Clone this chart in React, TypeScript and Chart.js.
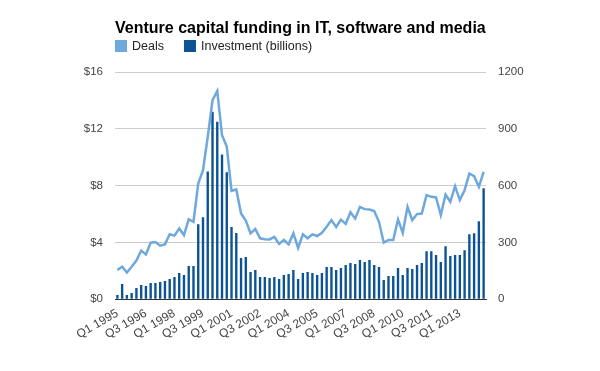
import React, { useEffect, useRef } from "react";
import { Chart, registerables } from "chart.js";

Chart.register(...registerables);

const TITLE = "Venture capital funding in IT, software and media";
const SERIES_NAMES = ["Deals", "Investment (billions)"];

const years = [1995, 1996, 1997, 1998, 1999, 2000, 2001, 2002, 2003, 2004, 2005, 2006, 2007, 2008, 2009, 2010, 2011, 2012, 2013, 2014];
const quarters = ["Q1", "Q2", "Q3", "Q4"];
const categories: string[] = [];
years.forEach((y) => quarters.forEach((q) => categories.push(`${q} ${y}`)));
categories.splice(78);

const xTickLabels = ["Q1 1995", "Q3 1996", "Q1 1998", "Q3 1999", "Q1 2001", "Q3 2002", "Q1 2004", "Q3 2005", "Q1 2007", "Q3 2008", "Q1 2010", "Q3 2011", "Q1 2013"];

const investment = [
  0.30, 1.08, 0.30, 0.44, 0.80, 1.01, 0.94, 1.15, 1.15, 1.22,
  1.29, 1.43, 1.57, 1.85, 1.71, 2.34, 2.34, 5.29, 5.78, 9.0,
  13.2, 12.5, 10.2, 8.94, 5.09, 4.67, 2.91, 2.97, 1.93, 2.07,
  1.57, 1.57, 1.50, 1.57, 1.43, 1.71, 1.78, 2.06, 1.43, 1.85,
  1.92, 1.85, 1.71, 1.85, 2.27, 2.27, 2.06, 2.20, 2.41, 2.55,
  2.48, 2.76, 2.62, 2.76, 2.41, 2.27, 1.36, 1.64, 1.64, 2.20,
  1.71, 2.20, 2.13, 2.41, 2.55, 3.39, 3.39, 3.11, 2.62, 3.74,
  3.04, 3.11, 3.11, 3.46, 4.58, 4.65, 5.50, 7.81,
];

const deals = [
  155, 172, 141, 172, 205, 257, 237, 299, 302, 283,
  290, 343, 336, 374, 339, 422, 409, 611, 682, 857,
  1051, 1100, 866, 806, 572, 580, 453, 416, 348, 371,
  322, 317, 316, 329, 292, 313, 290, 348, 271, 343,
  322, 343, 334, 351, 383, 418, 382, 421, 398, 460,
  427, 488, 476, 474, 466, 409, 299, 313, 313, 422,
  351, 488, 418, 450, 453, 550, 541, 538, 445, 553,
  515, 597, 524, 576, 664, 650, 594, 673,
];

const leftTicks = [0, 4, 8, 12, 16];
const rightTicks = [0, 300, 600, 900, 1200];

const DEALS_COLOR = "#6fa8dc";
const INV_COLOR = "#0b5394";
const FONT = "'Liberation Sans', Arial, sans-serif";

const headerPlugin = {
  id: "header",
  afterDraw(chart: any) {
    const { ctx, chartArea } = chart;
    const x0 = chartArea.left;
    ctx.save();
    ctx.fillStyle = "#000";
    ctx.font = `bold 16px ${FONT}`;
    ctx.textBaseline = "alphabetic";
    ctx.textAlign = "left";
    ctx.fillText(TITLE, x0, 33);
    ctx.font = `12.5px ${FONT}`;
    ctx.textBaseline = "middle";
    let x = x0;
    chart.data.datasets.forEach((ds: any) => {
      ctx.fillStyle = ds.legendColor;
      ctx.fillRect(x, 40, 12, 12);
      ctx.fillStyle = "#222";
      ctx.fillText(ds.label, x + 17, 46.5);
      x += 17 + ctx.measureText(ds.label).width + 20;
    });
    ctx.restore();
  },
};

export default function App() {
  const ref = useRef<HTMLCanvasElement>(null);
  useEffect(() => {
    if (!ref.current) return;
    const chart = new Chart(ref.current, {
      data: {
        labels: categories,
        datasets: [
          {
            type: "line",
            label: SERIES_NAMES[0],
            data: deals,
            yAxisID: "y2",
            borderColor: DEALS_COLOR,
            borderWidth: 2.5,
            pointRadius: 0,
            tension: 0,
            order: 0,
            legendColor: DEALS_COLOR,
          } as any,
          {
            type: "bar",
            label: SERIES_NAMES[1],
            data: investment,
            yAxisID: "y",
            backgroundColor: INV_COLOR,
            barPercentage: 1,
            categoryPercentage: 0.5,
            order: 1,
            legendColor: INV_COLOR,
          } as any,
        ],
      },
      options: {
        responsive: false,
        animation: false,
        layout: { padding: { top: 72, left: 0, right: 0, bottom: 0 } },
        plugins: {
          legend: { display: false },
          title: { display: false },
          tooltip: { enabled: false },
        },
        scales: {
          x: {
            grid: { display: false, drawTicks: false },
            border: { display: true, color: "#333", width: 1 },
            afterFit: (s: any) => { s.height = 71.7; },
            ticks: {
              autoSkip: false,
              minRotation: 30,
              maxRotation: 30,
              padding: 7,
              color: "#444",
              font: { family: FONT, size: 12 },
              callback: function (this: any, v: any) {
                const l = categories[v as number];
                return xTickLabels.includes(l) ? l : "";
              },
            },
          },
          y: {
            position: "left",
            min: 0,
            max: 16,
            afterFit: (s: any) => { s.width = 115; },
            afterBuildTicks: (s: any) => { s.ticks = leftTicks.map((v) => ({ value: v })); },
            grid: { color: "#ccc", drawTicks: false },
            border: { display: false },
            ticks: {
              padding: 12,
              color: "#444",
              font: { family: FONT, size: 11.5 },
              callback: (v: any) => "$" + v,
            },
          },
          y2: {
            position: "right",
            min: 0,
            max: 1200,
            afterFit: (s: any) => { s.width = 114; },
            afterBuildTicks: (s: any) => { s.ticks = rightTicks.map((v) => ({ value: v })); },
            grid: { display: false, drawTicks: false },
            border: { display: false },
            ticks: {
              padding: 12,
              color: "#444",
              font: { family: FONT, size: 11.5 },
              callback: (v: any) => String(v),
            },
          },
        },
      },
      plugins: [headerPlugin],
    } as any);
    return () => chart.destroy();
  }, []);
  return (
    <canvas
      ref={ref}
      width={600}
      height={371}
      style={{ position: "fixed", left: 0, top: 0, width: 600, height: 371, display: "block", background: "#fff" }}
    />
  );
}
